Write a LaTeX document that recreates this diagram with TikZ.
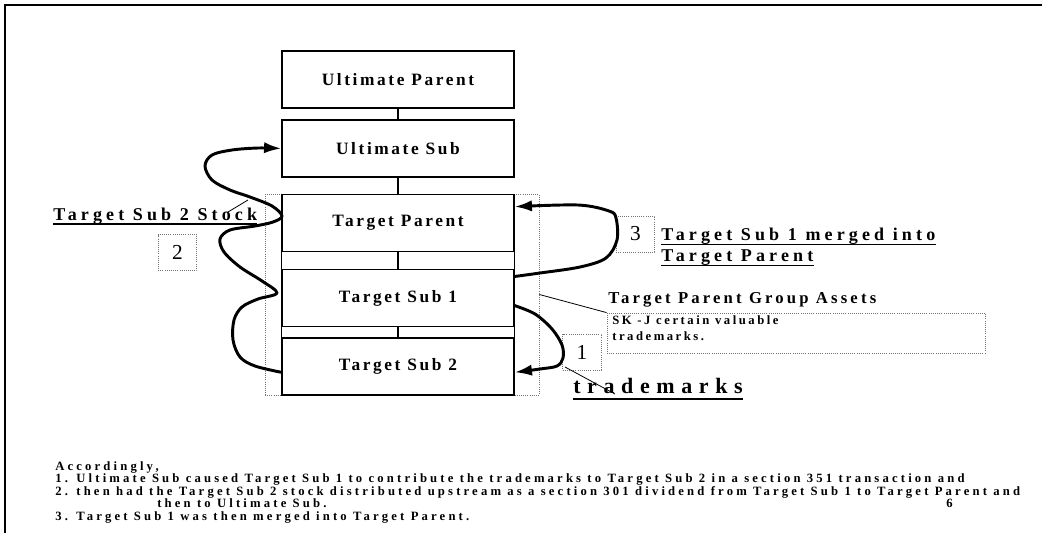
\documentclass[tikz,border=0pt]{standalone}
\usepackage{fontspec}
\setmainfont{Liberation Serif}
\newfontfamily\lblfont[LetterSpace=15]{Liberation Serif}
\newfontfamily\headfont[LetterSpace=23]{Liberation Serif}
\newfontfamily\tmfont[LetterSpace=30]{Liberation Serif}
\newfontfamily\grpfont[LetterSpace=19]{Liberation Serif}
\newfontfamily\notefont[LetterSpace=20]{Liberation Serif}
\newfontfamily\bodyfont[LetterSpace=25]{Liberation Serif}
\usetikzlibrary{arrows.meta,calc}
\begin{document}
\begin{tikzpicture}[x=0.75pt,y=-0.75pt,
  entity/.style={draw, line width=0.9pt, minimum width=174pt, minimum height=42.75pt, inner sep=0pt,
    font=\lblfont\bfseries\fontsize{13}{15}\selectfont},
  link/.style={line width=0.8pt},
  dotbox/.style={draw=black!55, densely dotted, line width=0.6pt},
  numbox/.style={dotbox, minimum width=29pt, minimum height=27pt, inner sep=0pt,
    font=\fontsize{16}{18}\selectfont},
  flow/.style={line width=2.2pt, line cap=round, line join=round, -{Latex[length=13pt,width=8.5pt]}},
  leader/.style={line width=0.6pt},
  uline/.style={line width=1.1pt},
  heading/.style={anchor=base west, inner sep=0pt, font=\headfont\bfseries\fontsize{13.5}{15}\selectfont},
  body/.style={anchor=base west, inner sep=0pt, font=\bodyfont\bfseries\fontsize{9.5}{11}\selectfont}
]
\useasboundingbox (0,0) rectangle (1042,533);
\fill[white] (0,0) rectangle (1042,533);

% page frame (top and left rules)
\draw[line width=2pt] (5,533) -- (5,5) -- (1042,5);

% group outline around the target companies
\node[dotbox, minimum width=205.5pt, minimum height=150.75pt, inner sep=0pt] (grp) at (402,294.5) {};

% entity chain
\node[entity] (up)  at (398,79.5)  {Ultimate Parent};
\node[entity] (us)  at (398,148.5) {Ultimate Sub};
\node[entity] (tp)  at (398,223)   {Target Parent};
\node[entity] (ts1) at (398,298)   {Target Sub 1};
\node[entity] (ts2) at (398,366.5) {Target Sub 2};

\draw[link] (up.south) -- (us.north);
\draw[link] (us.south) -- (tp.north);
\draw[link] (tp.south) -- (ts1.north);
\draw[link] (ts1.south) -- (ts2.north);
\draw[entity] (tp.south west) -- (ts1.north west) (tp.south east) -- (ts1.north east);
\draw[entity] (ts1.south west) -- (ts2.north west) (ts1.south east) -- (ts2.north east);

% group assets note
\node[anchor=base west, inner sep=0pt, font=\grpfont\bfseries\fontsize{12.5}{14}\selectfont]
  (grplbl) at (608,303) {Target Parent Group Assets};
\node[dotbox, minimum width=283.5pt, minimum height=30pt, inner sep=0pt] (assets) at (796,333) {};
\node[anchor=north west, inner sep=0pt, align=left,
  font=\notefont\bfseries\fontsize{9.5}{12}\selectfont] (assetstxt) at (612,315)
  {SK -J certain valuable\\trademarks.};
\draw[leader] (grp.east) -- (assets.north west);

% step numbers
\node[numbox] (n1) at (582,352)   {1};
\node[numbox] (n2) at (177.5,252.5) {2};
\node[numbox] (n3) at (635.5,234) {3};

% underlined captions
\node[heading] (stock) at (53,220) {Target Sub 2 Stock};
\draw[uline] ([yshift=-3pt]stock.base west) -- ([yshift=-3pt]stock.base east);
\node[heading] (mergeA) at (661,240) {Target Sub 1 merged into};
\draw[uline] ([yshift=-3.5pt]mergeA.base west) -- ([yshift=-3.5pt]mergeA.base east);
\node[heading] (mergeB) at (661,261) {Target Parent};
\draw[uline] ([yshift=-3.5pt]mergeB.base west) -- ([yshift=-3.5pt]mergeB.base east);
\node[anchor=base west, inner sep=0pt, font=\tmfont\bfseries\fontsize{16.5}{18}\selectfont]
  (tm) at (573,393) {trademarks};
\draw[uline] ([yshift=-4.5pt]tm.base west) -- ([yshift=-4.5pt]tm.base east);

% flow arrows
\coordinate (a1s) at ($(ts1.north east)!0.63!(ts1.south east)$);
\coordinate (a1e) at ($(ts2.north east)!0.6!(ts2.south east)$);
\coordinate (a3s) at ($(ts1.north east)!0.13!(ts1.south east)$);
\coordinate (a3e) at ($(tp.north east)!0.22!(tp.south east)$);
\coordinate (a2s) at ($(ts2.north west)!0.6!(ts2.south west)$);
\coordinate (a2e) at (us.west);

\draw[flow] plot[smooth, tension=0.55] coordinates {
  (a1s) (535,314) (552,329) (562,345) (563,358) (557,366) (540,369) (a1e)};

\draw[flow] plot[smooth, tension=0.55] coordinates {
  (a3s) (540,273) (580,267) (606,258) (617,240) (616,218) (609,211) (578,205) (a3e)};

\draw[flow] plot[smooth, tension=0.55] coordinates {
  (a2s) (255,366) (240,357) (233,340) (234,320) (242,307) (258,299) (277,293)
  (262,281) (240,267) (224,252) (220,239) (230,230) (255,226) (273,222) (282,216)
  (272,206) (250,197) (230,190) (212,180) (205,166) (212,155) (232,150) (258,148) (a2e)};

% leader ticks
\coordinate (stocktickA) at (228,212);
\coordinate (stocktickB) at (248,200);
\draw[leader] (stocktickA) -- (stocktickB);
\coordinate (tmtickA) at (565,367);
\coordinate (tmtickB) at (615,394);
\draw[leader] (tmtickA) -- (tmtickB);

% explanatory text
\node[body] (t0) at (55,470) {Accordingly,};
\node[body] (t1) at (55,482.5) {1. Ultimate Sub caused Target Sub 1 to contribute the trademarks to Target Sub 2 in a section 351 transaction and};
\node[body] (t2) at (55,495) {2. then had the Target Sub 2 stock distributed upstream as a section 301 dividend from Target Sub 1 to Target Parent and};
\node[body] (t3) at (157,507.5) {then to Ultimate Sub.};
\node[body] (pg) at (946,507.5) {6};
\node[body] (t4) at (55,520) {3. Target Sub 1 was then merged into Target Parent.};
\end{tikzpicture}
\end{document}
